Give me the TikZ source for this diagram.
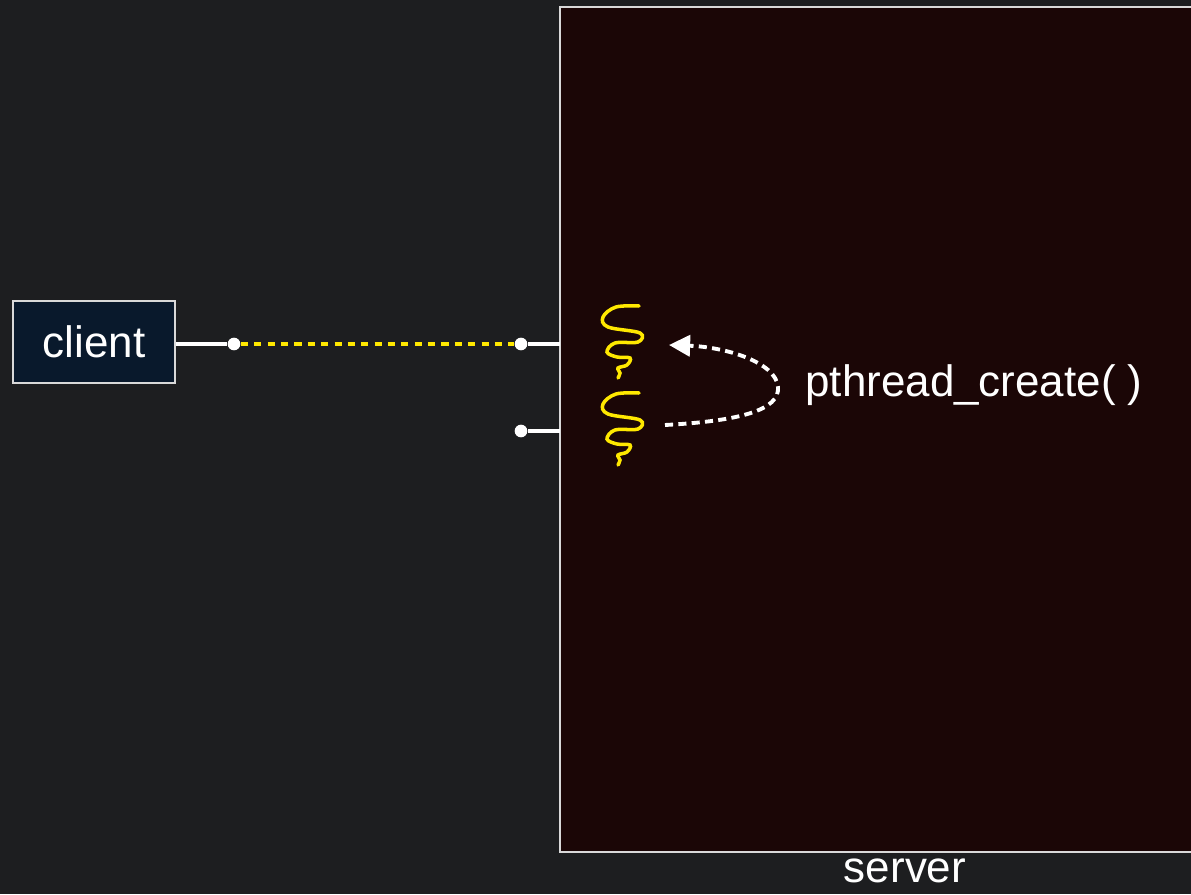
\documentclass[tikz,border=0pt]{standalone}
\usepackage{fontspec}
\setmainfont{Liberation Sans}
\usetikzlibrary{arrows.meta}

\definecolor{bgdark}{RGB}{29,30,32}
\definecolor{srvfill}{RGB}{27,6,6}
\definecolor{clifill}{RGB}{9,25,44}
\definecolor{thyellow}{RGB}{255,232,0}

\tikzset{
  wire/.style={white, line width=1pt},
  plug/.style={circle, fill=white, inner sep=0pt, minimum size=3.6pt},
  thread/.pic={
    \draw[thyellow, line width=1pt, line cap=round]
      plot[smooth, tension=0.6] coordinates {(639,306) (616,307) (603,317) (608,327) (640,333) (638,342)
        (615,343) (607,352) (617,357) (630,358) (627,365) (618,368) (620,373) (618,378)};
  }
}

\begin{document}
\begin{tikzpicture}[x=0.01cm, y=-0.01cm, font=\fontsize{12.5}{15}\selectfont]
\fill[bgdark] (0,0) rectangle (1191,894);
\useasboundingbox (0,0) rectangle (1191,894);

% server box, runs off the right edge
\draw[white!85!black, line width=0.6pt, fill=srvfill] (560,7) rectangle (1260,852);
\coordinate (srvw) at (560,345);
\node[white] (srvlbl) at (905,871) {server};

% client
\node[draw=white!85!black, line width=0.6pt, fill=clifill, text=white,
      minimum width=1.62cm, minimum height=0.82cm] (client) at (94,342) {client};

\node[plug] (cdot) at (234,344) {};
\node[plug] (sdot1) at (521,344) {};
\node[plug] (sdot2) at (521,431) {};

\draw[wire] (cdot -| client.east) -- (cdot);
\draw[thyellow, line width=1.1pt, dash pattern=on 2pt off 1.8pt] (cdot) -- (sdot1);
\draw[wire] (sdot1) -- (sdot1 -| srvw);
\draw[wire] (sdot2) -- (sdot2 -| srvw);

% two threads
\pic at (0,0) {thread};
\pic at (0,87) {thread};

\coordinate (t2) at (665,425);
\coordinate (t1) at (669,345);
\draw[white, line width=1.1pt, dash pattern=on 2.3pt off 1.5pt, -{Triangle[length=6pt,width=6pt]}]
  (t2) .. controls (740,421) and (780,410) .. (778,387) .. controls (776,362) and (725,347) .. (t1);

\node[white, anchor=west] (pcreate) at (793,385) {pthread\_create( )};
\end{tikzpicture}
\end{document}
